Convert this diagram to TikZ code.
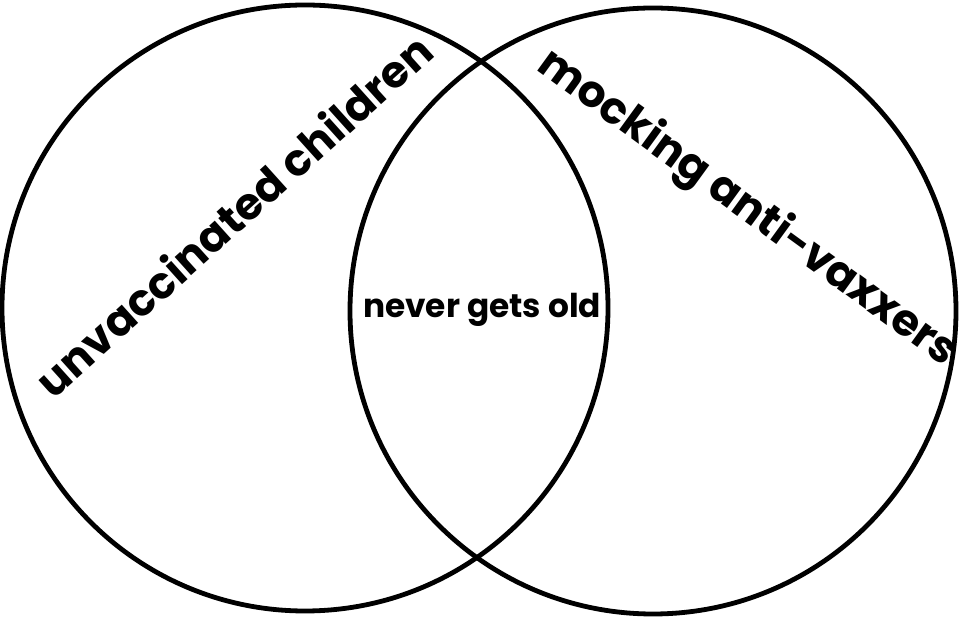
\documentclass[tikz,border=0pt]{standalone}
\usepackage{fontspec}
\newfontfamily\vennfont{Poppins}
\begin{document}
\begin{tikzpicture}[x=0.5pt,y=-0.5pt,
        set/.style={circle,draw=black,line width=2.4pt,
          inner sep=0pt,minimum size=303pt},
        setlabel/.style={font=\vennfont\bfseries\fontsize{22}{26}\selectfont,
          inner sep=0pt,anchor=base},
        meetlabel/.style={font=\vennfont\bfseries\fontsize{16.4}{19}\selectfont,
          inner sep=0pt,anchor=base}]
      \useasboundingbox[fill=white] (0,0) rectangle (960,619);
      \node (left) at (305,308) [set] {};
      \node (right) at (653,311) [set] {};
      \node (unvax) at (245,228) [setlabel,rotate=42] {unvaccinated children};
      \node (mock) at (740,218) [setlabel,rotate=-36] {mocking anti-vaxxers};
      \node (old) at (482,318) [meetlabel] {never gets old};
\end{tikzpicture}
\end{document}
